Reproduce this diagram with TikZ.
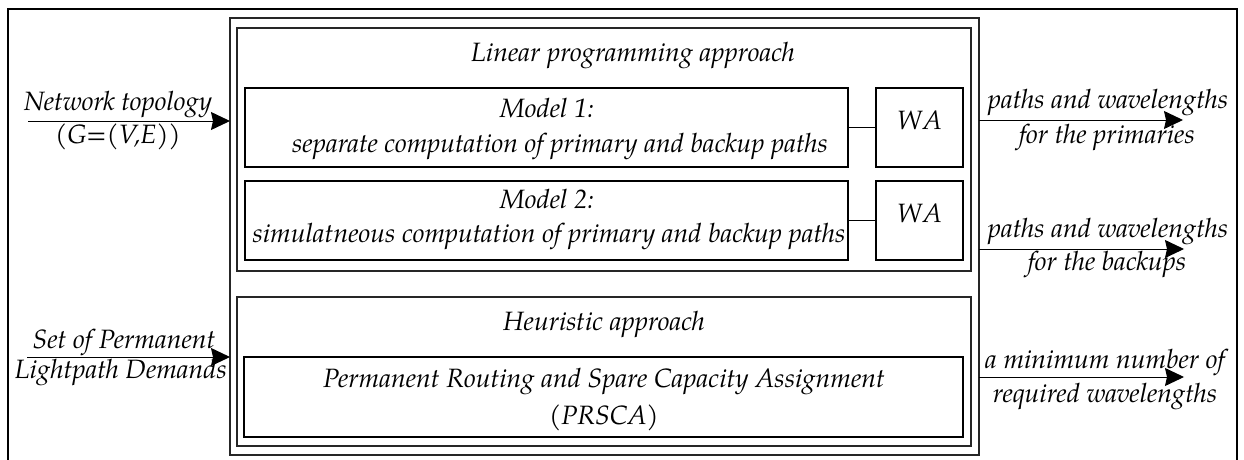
\documentclass[tikz,border=0pt]{standalone}
\usepackage{fontspec}
\setmainfont{texgyrepagella}[Extension=.otf, UprightFont=*-regular, ItalicFont=*-italic, BoldFont=*-bold, BoldItalicFont=*-bolditalic]
\usetikzlibrary{arrows.meta}
\begin{document}
\begin{tikzpicture}[x=1pt,y=-1pt,
  txt/.style={font=\fontsize{26.5}{30}\selectfont\itshape, inner sep=0pt, anchor=base},
  box/.style={inner sep=0pt, outer sep=0pt, anchor=north west},
  thinbox/.style={box, draw=black!85, line width=1.1pt},
  thickbox/.style={box, draw=black, line width=2.2pt},
  link/.style={draw=black, line width=1pt},
  arr/.style={line width=1pt, -{Stealth[length=19pt,width=18pt,inset=2pt]}}]
\useasboundingbox (0,0) rectangle (1244,460);
% outer frame
\draw[line width=1.2pt] (8,470) |- (1237,9) -- (1237,470);
% main containers
\node[thinbox, minimum width=749pt, minimum height=437pt] (mid) at (230,18) {};
\node[thinbox, minimum width=734pt, minimum height=243pt] (lp) at (237,28) {};
\node[thinbox, minimum width=734pt, minimum height=149pt] (heur) at (237,297) {};
% inner boxes
\node[thickbox, minimum width=603pt, minimum height=79pt] (m1) at (245,88) {};
\node[thickbox, minimum width=603pt, minimum height=79pt] (m2) at (245,181) {};
\node[thickbox, minimum width=87pt, minimum height=79pt] (wa1) at (876,88) {};
\node[thickbox, minimum width=87pt, minimum height=79pt] (wa2) at (876,181) {};
\node[thickbox, minimum width=719pt, minimum height=80pt] (pr) at (244,357) {};
% texts in boxes
\node[txt] (lpt) at (633,62) {Linear programming approach};
\node[txt] (m1a) at (547,117) {Model 1:};
\node[txt] (m1b) at (560,152) {separate computation of primary and backup paths};
\node[txt] (m2a) at (547,208) {Model 2:};
\node[txt] (m2b) at (549,242) {simulatneous computation of primary and backup paths};
\node[txt] (wa1t) at ([yshift=-2pt]wa1.center) {W\kern1ptA};
\node[txt] (wa2t) at ([yshift=-2pt]wa2.center) {W\kern1ptA};
\node[txt] (ht) at (604,330) {Heuristic approach};
\node[txt] (pra) at (604,387) {Permanent Routing and Spare Capacity Assignment};
\node[txt] (prb) at (604,424) {(PRSCA)};
% connectors between models and WA
\draw[link] (m1.east) -- (wa1.west);
\draw[link] (m2.east) -- (wa2.west);
% input arrows
\coordinate (i1) at (28,121);
\coordinate (i2) at (27,357);
\draw[arr] (i1) -- (i1 -| mid.west);
\draw[arr] (i2) -- (i2 -| mid.west);
\node[txt] (i1a) at (118,110) {Network topology};
\node[txt] (i1b) at (118,143) {(G=(V,E))};
\node[txt] (i2a) at (124,348) {Set of Permanent};
\node[txt] (i2b) at (121,378) {Lightpath Demands};
% output arrows
\coordinate (o1) at (1183,120);
\coordinate (o2) at (1184,249);
\coordinate (o3) at (1184,377);
\draw[arr] (o1 -| mid.east) -- (o1);
\draw[arr] (o2 -| mid.east) -- (o2);
\draw[arr] (o3 -| mid.east) -- (o3);
\node[txt] (o1a) at (1108,108) {paths and wavelengths};
\node[txt] (o1b) at (1107,143) {for the primaries};
\node[txt] (o2a) at (1108,237) {paths and wavelengths};
\node[txt] (o2b) at (1107,270) {for the backups};
\node[txt] (o3a) at (1105,368) {a minimum number of};
\node[txt] (o3b) at (1105,402) {required wavelengths};
\end{tikzpicture}
\end{document}
